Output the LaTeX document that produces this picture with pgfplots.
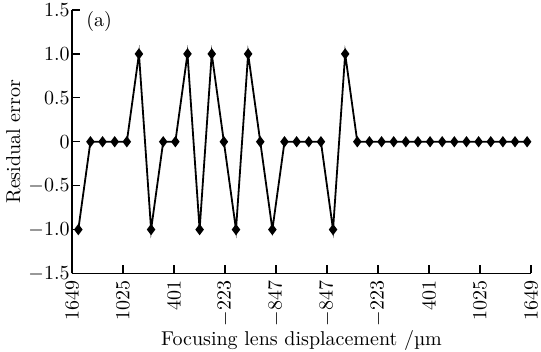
\documentclass[border=0pt]{standalone}
\usepackage{pgfplots}
\pgfplotsset{compat=1.18}
\pgfplotstableread{
i v
0 -1
1 0
2 0
3 0
4 0
5 1
6 -1
7 0
8 0
9 1
10 -1
11 1
12 0
13 -1
14 1
15 0
16 -1
17 0
18 0
19 0
20 0
21 -1
22 1
23 0
24 0
25 0
26 0
27 0
28 0
29 0
30 0
31 0
32 0
33 0
34 0
35 0
36 0
37 0
}\resid
\begin{document}
\begin{tikzpicture}
\begin{axis}[
  name=ax,
  scale only axis,
  width=229.5pt, height=131.75pt,
  axis lines=left,
  axis line style={-, line width=0.9pt},
  tick align=inside,
  tick style={black, line width=0.6pt},
  major tick length=4pt,
  minor tick length=2pt,
  xmin=-0.52, xmax=37.32,
  ymin=-1.5, ymax=1.5,
  xtick={-0.52,3.684,7.889,12.093,16.298,20.502,24.706,28.911,33.115,37.32},
  xticklabels={1649,1025,401,$-223$,$-847$,$-847$,$-223$,401,1025,1649},
  minor x tick num=3,
  xticklabel style={rotate=90, anchor=east},
  ytick={-1.5,-1,-0.5,0,0.5,1,1.5},
  yticklabels={$-1.5$,$-1.0$,$-0.5$,0,0.5,1.0,1.5},
  yticklabel style={inner xsep=1pt},
  xlabel={Focusing lens displacement /µm},
  ylabel={Residual error},
  xlabel style={at={(axis description cs:0.5,-0.1879)}, anchor=north},
  ylabel style={at={(axis description cs:-0.0967,0.5)}, anchor=south},
  clip=false,
]
\addplot[black, line width=0.9pt, mark=diamond*, mark size=2.1pt] table[x=i, y=v] {\resid};
\node[anchor=west] at (rel axis cs:0,1) [xshift=3.7pt, yshift=-6pt] {(a)};
\end{axis}
\pgfresetboundingbox
\path[use as bounding box] (ax.south west) ++(-36pt,-39.25pt) rectangle ++(270.5pt,176pt);
\end{tikzpicture}
\end{document}
